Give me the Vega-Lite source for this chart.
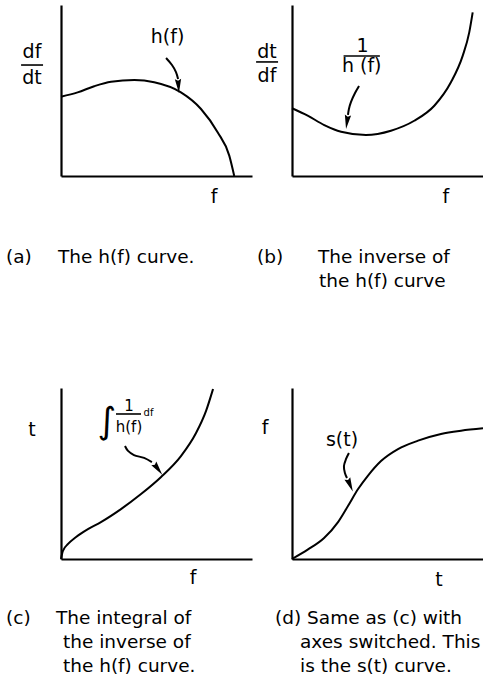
{
  "$schema": "https://vega.github.io/schema/vega-lite/v6.json",
  "background": "white",
  "padding": {"left": 5, "top": 5, "right": 0, "bottom": 0},
  "autosize": {"type": "pad"},
  "config": {
    "view": {"stroke": null},
    "font": "DejaVu Sans",
    "axis": {"domainColor": "black", "domainWidth": 2.2, "labels": false, "ticks": false, "grid": false}
  },
  "datasets": {
    "curve": [
      {"panel": "a", "x": 0, "y": 46.4}, {"panel": "a", "x": 8.7, "y": 48.9}, {"panel": "a", "x": 17.4, "y": 52.5},
      {"panel": "a", "x": 26.2, "y": 55.1}, {"panel": "a", "x": 38.4, "y": 56.1}, {"panel": "a", "x": 48.8, "y": 54.8},
      {"panel": "a", "x": 62.8, "y": 48.9}, {"panel": "a", "x": 73.3, "y": 39.2}, {"panel": "a", "x": 82.0, "y": 25.6},
      {"panel": "a", "x": 88.1, "y": 11.9}, {"panel": "a", "x": 90.7, "y": 0},
      {"panel": "b", "x": 0, "y": 39.6}, {"panel": "b", "x": 8.2, "y": 35.3}, {"panel": "b", "x": 16.9, "y": 29.8},
      {"panel": "b", "x": 25.7, "y": 25.9}, {"panel": "b", "x": 38.7, "y": 24.0}, {"panel": "b", "x": 51.8, "y": 26.5},
      {"panel": "b", "x": 64.0, "y": 32.3}, {"panel": "b", "x": 74.5, "y": 41.1}, {"panel": "b", "x": 83.2, "y": 54.8},
      {"panel": "b", "x": 89.4, "y": 70.4}, {"panel": "b", "x": 92.8, "y": 84.0}, {"panel": "b", "x": 94.6, "y": 95.7},
      {"panel": "c", "x": 0, "y": 0}, {"panel": "c", "x": 1.0, "y": 4.7}, {"panel": "c", "x": 3.7, "y": 8.8},
      {"panel": "c", "x": 7.9, "y": 12.9}, {"panel": "c", "x": 14.1, "y": 17.5}, {"panel": "c", "x": 20.9, "y": 21.6},
      {"panel": "c", "x": 31.4, "y": 29.2}, {"panel": "c", "x": 41.9, "y": 38.0}, {"panel": "c", "x": 52.4, "y": 48.0},
      {"panel": "c", "x": 62.8, "y": 60.2}, {"panel": "c", "x": 70.7, "y": 73.7}, {"panel": "c", "x": 75.9, "y": 86.5},
      {"panel": "c", "x": 79.6, "y": 99.4},
      {"panel": "d", "x": 0, "y": 0}, {"panel": "d", "x": 8.4, "y": 5.6}, {"panel": "d", "x": 16.8, "y": 12.3},
      {"panel": "d", "x": 24.1, "y": 21.6}, {"panel": "d", "x": 29.3, "y": 31.0}, {"panel": "d", "x": 34.6, "y": 40.9},
      {"panel": "d", "x": 39.8, "y": 48.8}, {"panel": "d", "x": 46.6, "y": 57.3}, {"panel": "d", "x": 55.5, "y": 64.3},
      {"panel": "d", "x": 66.0, "y": 69.2}, {"panel": "d", "x": 78.0, "y": 73.1}, {"panel": "d", "x": 88.5, "y": 75.0},
      {"panel": "d", "x": 100, "y": 76.4}
    ],
    "arrow": [
      {"panel": "a", "i": 0, "x": 55.0, "y": 69.0}, {"panel": "a", "i": 1, "x": 58.1, "y": 64.9},
      {"panel": "a", "i": 2, "x": 60.2, "y": 60.8}, {"panel": "a", "i": 3, "x": 61.3, "y": 56.7},
      {"panel": "b", "i": 0, "x": 35.1, "y": 52.6}, {"panel": "b", "i": 1, "x": 33.0, "y": 48.5},
      {"panel": "b", "i": 2, "x": 30.9, "y": 43.3}, {"panel": "b", "i": 3, "x": 29.8, "y": 39.2},
      {"panel": "b", "i": 4, "x": 29.3, "y": 35.7},
      {"panel": "c", "i": 0, "x": 33.5, "y": 66.1}, {"panel": "c", "i": 1, "x": 35.1, "y": 63.2},
      {"panel": "c", "i": 2, "x": 38.2, "y": 60.8}, {"panel": "c", "i": 3, "x": 43.5, "y": 59.1},
      {"panel": "c", "i": 4, "x": 47.6, "y": 56.7},
      {"panel": "d", "i": 0, "x": 29.8, "y": 62.0}, {"panel": "d", "i": 1, "x": 28.3, "y": 58.5},
      {"panel": "d", "i": 2, "x": 27.2, "y": 54.4}, {"panel": "d", "i": 3, "x": 27.7, "y": 50.3},
      {"panel": "d", "i": 4, "x": 28.8, "y": 47.4}
    ],
    "head": [
      {"panel": "a", "x": 61.5, "y": 52.6},
      {"panel": "b", "x": 28.8, "y": 31.6},
      {"panel": "c", "x": 50.8, "y": 52.6},
      {"panel": "d", "x": 30.4, "y": 43.3}
    ],
    "bar": [
      {"panel": "a", "x": -20.9, "x2": -9.4, "y": 64.9},
      {"panel": "b", "x": -18.8, "x2": -7.3, "y": 66.7},
      {"panel": "b", "x": 27.0, "x2": 46.0, "y": 70.2},
      {"panel": "c", "x": 28.8, "x2": 41.9, "y": 84.8}
    ],
    "label": [
      {"panel": "a", "role": "main", "x": -15.2, "y": 69.0, "text": "df"},
      {"panel": "a", "role": "main", "x": -15.2, "y": 53.8, "text": "dt"},
      {"panel": "a", "role": "main", "x": 55.8, "y": 77.8, "text": "h(f)"},
      {"panel": "a", "role": "main", "x": 80.1, "y": -15.8, "text": "f"},
      {"panel": "b", "role": "main", "x": -13.1, "y": 69.0, "text": "dt"},
      {"panel": "b", "role": "main", "x": -13.1, "y": 55.0, "text": "df"},
      {"panel": "b", "role": "main", "x": 37.0, "y": 72.5, "text": "1"},
      {"panel": "b", "role": "main", "x": 36.5, "y": 60.8, "text": "h (f)"},
      {"panel": "b", "role": "main", "x": 80.6, "y": -15.8, "text": "f"},
      {"panel": "c", "role": "main", "x": -15.2, "y": 71.9, "text": "t"},
      {"panel": "c", "role": "main", "x": 69.1, "y": -14.6, "text": "f"},
      {"panel": "c", "role": "mini", "x": 35.6, "y": 86.5, "text": "1"},
      {"panel": "c", "role": "mini", "x": 35.6, "y": 74.3, "text": "h(f)"},
      {"panel": "c", "role": "tiny", "x": 45.8, "y": 83.6, "text": "df"},
      {"panel": "c", "role": "integral", "x": 24.0, "y": 73.7, "text": "∫"},
      {"panel": "d", "role": "main", "x": -14.1, "y": 73.1, "text": "f"},
      {"panel": "d", "role": "main", "x": 77.0, "y": -15.8, "text": "t"},
      {"panel": "d", "role": "main", "x": 26.2, "y": 66.1, "text": "s(t)"}
    ],
    "caption": [
      {"panel": "a", "x": -28.8, "y": -50.9, "text": "(a)"},
      {"panel": "a", "x": -1.6, "y": -50.9, "text": "The  h(f)  curve."},
      {"panel": "b", "x": -18.3, "y": -50.9, "text": "(b)"},
      {"panel": "b", "x": 13.6, "y": -50.9, "text": "The inverse of"},
      {"panel": "b", "x": 14.1, "y": -64.9, "text": "the h(f) curve"},
      {"panel": "c", "x": -28.8, "y": -38.0, "text": "(c)"},
      {"panel": "c", "x": -2.6, "y": -38.0, "text": "The integral of"},
      {"panel": "c", "x": 1.0, "y": -52.0, "text": "the inverse of"},
      {"panel": "c", "x": 1.0, "y": -66.1, "text": "the h(f) curve."},
      {"panel": "d", "x": -8.9, "y": -38.0, "text": "(d) Same as (c) with"},
      {"panel": "d", "x": 4.2, "y": -52.0, "text": "axes switched. This"},
      {"panel": "d", "x": 4.2, "y": -66.1, "text": "is the s(t) curve."}
    ]
  },
  "columns": 2,
  "bounds": "flush",
  "spacing": {"row": 212, "column": 40},
  "concat": [
    {
      "width": 191, "height": 171,
      "encoding": {
        "x": {"field": "x", "type": "quantitative", "scale": {"domain": [0, 100], "nice": false, "zero": false}, "axis": {"title": null}},
        "y": {"field": "y", "type": "quantitative", "scale": {"domain": [0, 100], "nice": false, "zero": false}, "axis": {"title": null}}
      },
      "layer": [
        {"data": {"name": "curve"}, "transform": [{"filter": "datum.panel === 'a'"}], "mark": {"type": "line", "interpolate": "monotone", "color": "black", "strokeWidth": 2}},
        {"data": {"name": "arrow"}, "transform": [{"filter": "datum.panel === 'a'"}], "mark": {"type": "line", "interpolate": "catmull-rom", "color": "black", "strokeWidth": 2}, "encoding": {"order": {"field": "i"}}},
        {"data": {"name": "head"}, "transform": [{"filter": "datum.panel === 'a'"}], "mark": {"type": "point", "shape": "M0,1L-0.45,-1L0,-0.75L0.45,-1Z", "filled": true, "color": "black", "opacity": 1, "size": 196, "angle": 356}},
        {"data": {"name": "bar"}, "transform": [{"filter": "datum.panel === 'a'"}], "mark": {"type": "rule", "color": "black", "strokeWidth": 1.6}, "encoding": {"x2": {"field": "x2"}}},
        {"data": {"name": "label"}, "transform": [{"filter": "datum.panel === 'a' && datum.role === 'main'"}], "mark": {"type": "text", "fontSize": 19, "align": "center", "baseline": "alphabetic", "color": "black"}, "encoding": {"text": {"field": "text"}}},
        {"data": {"name": "caption"}, "transform": [{"filter": "datum.panel === 'a'"}], "mark": {"type": "text", "fontSize": 18.5, "align": "left", "baseline": "alphabetic", "color": "black"}, "encoding": {"text": {"field": "text"}}}
      ]
    },
    {
      "width": 191, "height": 171,
      "encoding": {
        "x": {"field": "x", "type": "quantitative", "scale": {"domain": [0, 100], "nice": false, "zero": false}, "axis": {"title": null}},
        "y": {"field": "y", "type": "quantitative", "scale": {"domain": [0, 100], "nice": false, "zero": false}, "axis": {"title": null}}
      },
      "layer": [
        {"data": {"name": "curve"}, "transform": [{"filter": "datum.panel === 'b'"}], "mark": {"type": "line", "interpolate": "monotone", "color": "black", "strokeWidth": 2}},
        {"data": {"name": "arrow"}, "transform": [{"filter": "datum.panel === 'b'"}], "mark": {"type": "line", "interpolate": "catmull-rom", "color": "black", "strokeWidth": 2}, "encoding": {"order": {"field": "i"}}},
        {"data": {"name": "head"}, "transform": [{"filter": "datum.panel === 'b'"}], "mark": {"type": "point", "shape": "M0,1L-0.45,-1L0,-0.75L0.45,-1Z", "filled": true, "color": "black", "opacity": 1, "size": 196, "angle": 8}},
        {"data": {"name": "bar"}, "transform": [{"filter": "datum.panel === 'b'"}], "mark": {"type": "rule", "color": "black", "strokeWidth": 1.6}, "encoding": {"x2": {"field": "x2"}}},
        {"data": {"name": "label"}, "transform": [{"filter": "datum.panel === 'b' && datum.role === 'main'"}], "mark": {"type": "text", "fontSize": 19, "align": "center", "baseline": "alphabetic", "color": "black"}, "encoding": {"text": {"field": "text"}}},
        {"data": {"name": "caption"}, "transform": [{"filter": "datum.panel === 'b'"}], "mark": {"type": "text", "fontSize": 18.5, "align": "left", "baseline": "alphabetic", "color": "black"}, "encoding": {"text": {"field": "text"}}}
      ]
    },
    {
      "width": 191, "height": 171,
      "encoding": {
        "x": {"field": "x", "type": "quantitative", "scale": {"domain": [0, 100], "nice": false, "zero": false}, "axis": {"title": null}},
        "y": {"field": "y", "type": "quantitative", "scale": {"domain": [0, 100], "nice": false, "zero": false}, "axis": {"title": null}}
      },
      "layer": [
        {"data": {"name": "curve"}, "transform": [{"filter": "datum.panel === 'c'"}], "mark": {"type": "line", "interpolate": "monotone", "color": "black", "strokeWidth": 2}},
        {"data": {"name": "arrow"}, "transform": [{"filter": "datum.panel === 'c'"}], "mark": {"type": "line", "interpolate": "catmull-rom", "color": "black", "strokeWidth": 2}, "encoding": {"order": {"field": "i"}}},
        {"data": {"name": "head"}, "transform": [{"filter": "datum.panel === 'c'"}], "mark": {"type": "point", "shape": "M0,1L-0.45,-1L0,-0.75L0.45,-1Z", "filled": true, "color": "black", "opacity": 1, "size": 196, "angle": 323}},
        {"data": {"name": "bar"}, "transform": [{"filter": "datum.panel === 'c'"}], "mark": {"type": "rule", "color": "black", "strokeWidth": 1.6}, "encoding": {"x2": {"field": "x2"}}},
        {"data": {"name": "label"}, "transform": [{"filter": "datum.panel === 'c' && datum.role === 'main'"}], "mark": {"type": "text", "fontSize": 19, "align": "center", "baseline": "alphabetic", "color": "black"}, "encoding": {"text": {"field": "text"}}},
        {"data": {"name": "label"}, "transform": [{"filter": "datum.panel === 'c' && datum.role === 'mini'"}], "mark": {"type": "text", "fontSize": 15, "align": "center", "baseline": "alphabetic", "color": "black"}, "encoding": {"text": {"field": "text"}}},
        {"data": {"name": "label"}, "transform": [{"filter": "datum.panel === 'c' && datum.role === 'tiny'"}], "mark": {"type": "text", "fontSize": 10, "align": "center", "baseline": "alphabetic", "color": "black"}, "encoding": {"text": {"field": "text"}}},
        {"data": {"name": "label"}, "transform": [{"filter": "datum.panel === 'c' && datum.role === 'integral'"}], "mark": {"type": "text", "fontSize": 36, "align": "center", "baseline": "alphabetic", "color": "black"}, "encoding": {"text": {"field": "text"}}},
        {"data": {"name": "caption"}, "transform": [{"filter": "datum.panel === 'c'"}], "mark": {"type": "text", "fontSize": 18.5, "align": "left", "baseline": "alphabetic", "color": "black"}, "encoding": {"text": {"field": "text"}}}
      ]
    },
    {
      "width": 191, "height": 171,
      "encoding": {
        "x": {"field": "x", "type": "quantitative", "scale": {"domain": [0, 100], "nice": false, "zero": false}, "axis": {"title": null}},
        "y": {"field": "y", "type": "quantitative", "scale": {"domain": [0, 100], "nice": false, "zero": false}, "axis": {"title": null}}
      },
      "layer": [
        {"data": {"name": "curve"}, "transform": [{"filter": "datum.panel === 'd'"}], "mark": {"type": "line", "interpolate": "monotone", "color": "black", "strokeWidth": 2}},
        {"data": {"name": "arrow"}, "transform": [{"filter": "datum.panel === 'd'"}], "mark": {"type": "line", "interpolate": "catmull-rom", "color": "black", "strokeWidth": 2}, "encoding": {"order": {"field": "i"}}},
        {"data": {"name": "head"}, "transform": [{"filter": "datum.panel === 'd'"}], "mark": {"type": "point", "shape": "M0,1L-0.45,-1L0,-0.75L0.45,-1Z", "filled": true, "color": "black", "opacity": 1, "size": 196, "angle": 337}},
        {"data": {"name": "label"}, "transform": [{"filter": "datum.panel === 'd' && datum.role === 'main'"}], "mark": {"type": "text", "fontSize": 19, "align": "center", "baseline": "alphabetic", "color": "black"}, "encoding": {"text": {"field": "text"}}},
        {"data": {"name": "caption"}, "transform": [{"filter": "datum.panel === 'd'"}], "mark": {"type": "text", "fontSize": 18.5, "align": "left", "baseline": "alphabetic", "color": "black"}, "encoding": {"text": {"field": "text"}}}
      ]
    }
  ]
}
